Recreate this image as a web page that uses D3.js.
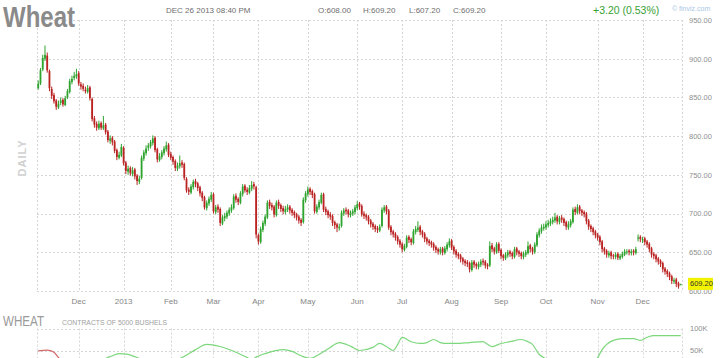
<!DOCTYPE html>
<html><head><meta charset="utf-8">
<script src="https://cdn.jsdelivr.net/npm/d3@7"></script>
<style>html,body{margin:0;padding:0;background:#fff;overflow:hidden}svg{display:block;font-family:"Liberation Sans",Arial,sans-serif}</style>
</head><body><svg id="c" width="720" height="358"></svg>
<script>
// ---- DATA ----
const opens = [
862,868,886,900,904,884,861,853,846,837,
843,847,840,850,857,870,875,877,881,867,
865,860,857,863,848,823,816,810,817,810,
815,806,794,798,793,782,772,775,785,766,
754,759,751,757,749,741,746,771,778,785,
787,791,798,783,769,773,778,783,789,777,
773,768,758,761,766,764,745,731,727,734,
742,739,734,727,721,707,713,718,725,702,
709,706,687,694,696,700,704,707,723,719,
714,725,736,731,727,732,738,734,672,663,
679,687,695,715,711,709,698,715,711,707,
702,705,709,705,702,699,696,692,689,717,
725,732,729,725,702,708,714,725,706,703,
699,697,689,686,681,684,700,705,704,698,
700,702,707,713,710,700,698,696,691,687,
684,681,678,684,704,709,704,683,677,674,
670,665,661,653,657,670,667,662,676,679,
683,677,674,668,665,663,661,657,654,650,
655,649,654,659,665,657,652,648,646,642,
639,637,636,627,638,635,631,634,639,638,
634,633,659,655,650,661,653,646,642,646,
651,649,644,655,651,649,644,647,649,659,
655,650,659,672,677,681,682,685,687,689,
691,696,689,695,693,689,682,685,689,706,
701,709,704,702,700,691,684,681,677,673,
670,664,655,652,646,650,646,644,648,642,
644,647,650,652,649,652,649,668,670,666,
668,664,661,655,648,646,642,639,636,629,
626,623,619,612,615,610,608];
const highs = [
872,888,905,917,908,886,864,856,848,846,
850,849,852,861,874,878,883,887,884,870,
868,864,866,865,850,826,819,820,819,826,
817,808,801,800,795,784,780,790,787,768,
762,761,760,759,751,749,775,782,788,791,
795,801,800,785,778,782,787,793,791,780,
775,770,766,775,769,766,747,734,738,744,
745,741,736,729,723,717,722,728,727,711,
712,708,698,701,704,708,712,725,726,721,
729,738,738,734,737,742,741,736,674,683,
691,699,717,718,714,711,717,718,713,710,
710,712,711,707,704,701,698,694,721,729,
735,734,731,727,712,718,727,727,709,705,
702,699,691,688,687,704,707,708,706,704,
706,711,716,715,712,703,700,698,693,689,
686,684,686,708,711,711,706,685,679,676,
672,667,663,661,672,672,669,680,684,690,
685,679,676,670,667,665,663,659,656,657,
657,658,663,668,667,659,654,650,648,644,
641,640,638,640,640,637,638,641,642,640,
636,664,662,657,663,663,655,648,650,653,
653,651,657,657,653,651,651,653,664,661,
657,663,676,681,686,687,690,692,694,696,
701,698,697,698,695,691,690,693,708,709,
712,711,706,704,702,693,686,683,679,675,
672,666,657,654,652,652,648,650,650,648,
651,654,654,654,654,654,657,673,672,670,
670,666,663,657,650,648,644,641,638,631,
628,625,621,617,617,612,609.2];
const lows = [
860,866,884,897,882,858,848,842,834,835,
840,838,839,848,855,867,872,874,865,860,
858,855,855,846,819,811,807,808,808,808,
802,792,790,788,778,769,770,773,762,751,
750,749,748,744,737,738,744,768,775,781,
784,788,779,766,767,770,775,780,773,769,
763,755,755,758,759,743,727,724,725,731,
734,729,722,716,705,704,710,715,700,699,
701,684,685,690,693,697,701,705,714,711,
712,722,727,724,725,729,731,668,660,661,
676,684,693,706,704,695,696,706,702,699,
699,702,700,697,694,691,687,684,687,714,
722,724,720,700,700,705,712,702,698,694,
692,684,680,676,678,682,697,699,695,695,
697,699,704,705,696,693,691,686,682,679,
676,675,676,682,701,699,679,672,669,665,
660,656,650,651,655,662,659,660,673,676,
672,669,663,660,658,656,652,649,647,647,
646,647,651,656,653,647,643,641,637,634,
632,631,624,625,630,628,628,631,633,629,
628,631,650,647,648,649,641,639,640,643,
644,641,642,646,644,641,641,644,647,650,
647,648,657,669,674,678,679,682,684,686,
688,686,686,688,684,679,679,682,687,698,
699,699,697,695,686,679,676,672,668,665,
659,650,647,643,643,641,641,641,640,640,
642,645,647,646,646,646,647,664,663,662,
659,656,650,643,641,637,634,631,624,621,
618,614,609,609,605,603,607.2];
const closes = [
868,885,901,905,885,862,852,845,838,842,
846,841,849,858,871,874,878,880,868,864,
861,858,862,849,822,815,811,816,811,814,
805,795,797,792,781,773,776,786,765,755,
758,752,756,748,742,745,772,779,784,788,
792,797,782,770,774,779,784,788,776,772,
767,759,762,765,763,746,730,728,735,741,
738,733,726,720,708,714,719,724,703,708,
705,688,695,697,701,705,708,722,718,715,
726,735,730,728,733,737,735,673,664,680,
688,696,714,710,708,699,714,710,706,703,
706,708,704,701,698,695,691,688,718,726,
731,728,724,703,709,715,724,705,702,698,
696,688,685,682,683,701,704,703,699,701,
703,708,712,709,699,697,695,690,686,683,
680,679,683,705,708,703,682,676,673,669,
664,660,654,658,669,666,663,677,680,682,
676,673,667,664,662,660,656,653,651,654,
650,655,660,664,656,651,647,645,641,638,
636,635,628,637,634,632,635,638,637,633,
632,658,654,651,660,652,645,643,647,650,
648,645,654,650,648,645,648,650,658,654,
651,660,673,678,682,683,686,688,690,692,
695,690,694,692,688,683,686,690,705,702,
708,703,701,699,690,683,680,676,672,669,
663,654,651,647,649,645,645,647,643,645,
648,651,651,650,651,650,654,669,667,667,
663,660,654,647,645,641,638,635,628,625,
622,618,613,614,609,606,609.2];

const monthLabels = ["Dec","2013","Feb","Mar","Apr","May","Jun","Jul","Aug","Sep","Oct","Nov","Dec"];
const monthStartIdx = [18,38,59,78,98,120,142,162,184,206,226,249,269];
const priceTicks = [600,650,700,750,800,850,900,950];
const volTicks = [50,100];

// contracts line (thousands), by candle index
const volRedIdx = [0,4,7,9,12];
const volRedVal = [49,51,46,34,24];
const volGreenIdx = [12,20,28,32,36,40,44,50,58,64,70,75,81,88,93,95,97,101,109,113,117,121,125,130,134,139,143,149,152,155,158,160,162,166,170,173,176,179,182,186,192,198,200,202,206,210,215,218,220,223,225,232,240,246,249,251,256,260,265,268,271,274,280,286];
const volGreenVal = [24,22,28,36,43,41,34,24,24,34,52,64,59,46,34,29,35,43,52,48,38,32,41,57,68,60,50,57,66,59,50,64,80,70,66,68,75,68,66,66,68,70,64,59,66,70,75,70,64,41,34,20,18,22,34,52,73,77,77,73,80,84,84,84];

const headerDate = "DEC 26 2013 08:40 PM";
const ohlcText = ["O:608.00","H:609.20","L:607.20","C:609.20"];
const changeText = "+3.20 (0.53%)";
const lastPrice = 609.20;

// ---- CHART ----
const svg = d3.select("#c");
const N = closes.length;
const L = 37, R = 682, T = 20, B = 291;
const x = d3.scaleBand().domain(d3.range(N)).range([L, R]).paddingInner(0.2).paddingOuter(0.15);
const cx = i => x(i) + x.bandwidth() / 2;
const y = d3.scaleLinear().domain([600, 950]).range([B, T]);
const yv = d3.scaleLinear().domain([0, 100]).range([372.5, 328.5]);
const grid = "#d6d6d6";
const FONT = '"Liberation Sans",Arial,sans-serif';

// Grid price panel
const g = svg.append("g");
g.selectAll("line.h").data(priceTicks).join("line").attr("class","h")
  .attr("x1", L).attr("x2", R)
  .attr("y1", d => Math.round(y(d)) + 0.5).attr("y2", d => Math.round(y(d)) + 0.5)
  .attr("stroke", grid).attr("stroke-dasharray", "2,2");
const vxs = [L, R].concat(monthStartIdx.map(cx));
g.selectAll("line.v").data(vxs).join("line").attr("class","v")
  .attr("x1", d => Math.round(d) + 0.5).attr("x2", d => Math.round(d) + 0.5)
  .attr("y1", T).attr("y2", B)
  .attr("stroke", grid).attr("stroke-dasharray", "2,2");
// Grid volume panel
g.selectAll("line.vh").data(volTicks).join("line").attr("class","vh")
  .attr("x1", L).attr("x2", R)
  .attr("y1", d => Math.round(yv(d)) + 0.5).attr("y2", d => Math.round(yv(d)) + 0.5)
  .attr("stroke", grid).attr("stroke-dasharray", "2,2");
g.selectAll("line.vv").data(vxs).join("line").attr("class","vv")
  .attr("x1", d => Math.round(d) + 0.5).attr("x2", d => Math.round(d) + 0.5)
  .attr("y1", yv(100)).attr("y2", 358)
  .attr("stroke", grid).attr("stroke-dasharray", "2,2");

// Candles
const up = "#2ea32e", dn = "#bb2222";
const idx = d3.range(N);
const cg = svg.append("g");
cg.selectAll("line").data(idx).join("line")
  .attr("x1", i => cx(i)).attr("x2", i => cx(i))
  .attr("y1", i => y(highs[i])).attr("y2", i => y(lows[i]))
  .attr("stroke", i => closes[i] >= opens[i] ? up : dn).attr("stroke-width", 1);
cg.selectAll("rect").data(idx).join("rect")
  .attr("x", i => x(i)).attr("width", x.bandwidth())
  .attr("y", i => y(Math.max(opens[i], closes[i])))
  .attr("height", i => Math.max(1, Math.abs(y(opens[i]) - y(closes[i]))))
  .attr("fill", i => closes[i] >= opens[i] ? up : dn);

// Bottom axis
const xa = svg.append("g").attr("transform", `translate(0,${B + 7})`)
  .call(d3.axisBottom(x).tickValues(monthStartIdx).tickFormat(d => monthLabels[monthStartIdx.indexOf(d)]).tickSize(0).tickPadding(0));
xa.select(".domain").remove();
xa.selectAll("text").attr("fill", "#858585").style("font-size", "8px").style("font-family", FONT);

// Right price axis
const ya = svg.append("g").attr("transform", `translate(689,0)`)
  .call(d3.axisRight(y).tickValues(priceTicks).tickFormat(d3.format(".2f")).tickSize(0).tickPadding(0));
ya.select(".domain").remove();
ya.selectAll("text").attr("fill", "#8f8f8f").style("font-size", "7.5px").style("font-family", FONT);

// Last price box
svg.append("rect").attr("x", 688).attr("y", y(lastPrice) - 6).attr("width", 25).attr("height", 12).attr("fill", "#f3f300");
svg.append("text").attr("x", 690).attr("y", y(lastPrice)).attr("dy", "0.34em")
  .attr("fill", "#333").style("font-size", "7.5px").text(d3.format(".2f")(lastPrice));

// Volume axis
const va = svg.append("g").attr("transform", `translate(690,0)`)
  .call(d3.axisRight(yv).tickValues(volTicks).tickFormat(d => d + "K").tickSize(0).tickPadding(0));
va.select(".domain").remove();
va.selectAll("text").attr("fill", "#8f8f8f").style("font-size", "7.5px").style("font-family", FONT);

// Volume lines
const line = d3.line().x(d => cx(d[0])).y(d => yv(d[1])).curve(d3.curveMonotoneX);
svg.append("path").datum(volRedIdx.map((d, k) => [d, volRedVal[k]]))
  .attr("d", line).attr("fill", "none").attr("stroke", "#d46a6a").attr("stroke-width", 1.2);
svg.append("path").datum(volGreenIdx.map((d, k) => [d, volGreenVal[k]]))
  .attr("d", line).attr("fill", "none").attr("stroke", "#7dd77d").attr("stroke-width", 1.2);

// Texts
svg.append("text").attr("x", 3).attr("y", 27).attr("textLength", 72).attr("lengthAdjust", "spacingAndGlyphs")
  .attr("fill", "#8a8a8a").style("font-size", "29px").style("font-weight", "bold").text("Wheat");
svg.append("text").attr("x", 166).attr("y", 13).attr("fill", "#6e6e6e").style("font-size", "8px").text(headerDate);
const ohlcX = [318, 363, 409, 453];
ohlcText.forEach((t, k) => svg.append("text").attr("x", ohlcX[k]).attr("y", 13).attr("fill", "#6e6e6e").style("font-size", "8px").text(t));
svg.append("text").attr("x", 593).attr("y", 13.5).attr("fill", "#36a036").style("font-size", "10.5px").text(changeText);
svg.append("text").attr("x", 672).attr("y", 11).attr("fill", "#a9c6e6").style("font-size", "7px").text("© finviz.com");
svg.append("text").attr("transform", "translate(26,158) rotate(-90)").attr("text-anchor", "middle")
  .attr("fill", "#d0d0d0").style("font-size", "11px").style("font-weight", "bold").style("letter-spacing", "1px").text("DAILY");
svg.append("text").attr("x", 3).attr("y", 326).attr("textLength", 41).attr("lengthAdjust", "spacingAndGlyphs")
  .attr("fill", "#9a9a9a").style("font-size", "14px").text("WHEAT");
svg.append("text").attr("x", 62).attr("y", 324.5).attr("textLength", 105).attr("lengthAdjust", "spacingAndGlyphs")
  .attr("fill", "#a0a0a0").style("font-size", "7px").text("CONTRACTS OF 5000 BUSHELS");
</script></body></html>
